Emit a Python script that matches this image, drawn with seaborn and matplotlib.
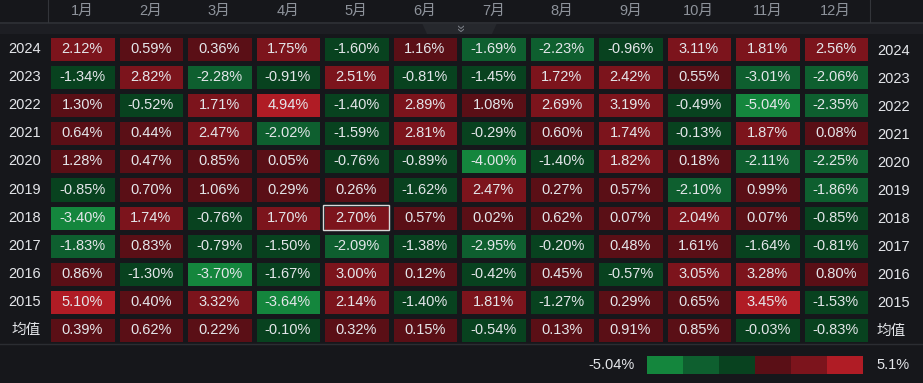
import matplotlib
matplotlib.use("Agg")
import matplotlib.pyplot as plt
from matplotlib.colors import ListedColormap, BoundaryNorm
from matplotlib.patches import Rectangle, Polygon
import numpy as np
import pandas as pd
import seaborn as sns

MONTHS = ["1月", "2月", "3月", "4月", "5月", "6月", "7月", "8月", "9月", "10月", "11月", "12月"]
ROW_LABELS = ["2024", "2023", "2022", "2021", "2020", "2019", "2018", "2017", "2016", "2015", "均值"]

r2024 = [2.12, 0.59, 0.36, 1.75, -1.60, 1.16, -1.69, -2.23, -0.96, 3.11, 1.81, 2.56]
r2023 = [-1.34, 2.82, -2.28, -0.91, 2.51, -0.81, -1.45, 1.72, 2.42, 0.55, -3.01, -2.06]
r2022 = [1.30, -0.52, 1.71, 4.94, -1.40, 2.89, 1.08, 2.69, 3.19, -0.49, -5.04, -2.35]
r2021 = [0.64, 0.44, 2.47, -2.02, -1.59, 2.81, -0.29, 0.60, 1.74, -0.13, 1.87, 0.08]
r2020 = [1.28, 0.47, 0.85, 0.05, -0.76, -0.89, -4.00, -1.40, 1.82, 0.18, -2.11, -2.25]
r2019 = [-0.85, 0.70, 1.06, 0.29, 0.26, -1.62, 2.47, 0.27, 0.57, -2.10, 0.99, -1.86]
r2018 = [-3.40, 1.74, -0.76, 1.70, 2.70, 0.57, 0.02, 0.62, 0.07, 2.04, 0.07, -0.85]
r2017 = [-1.83, 0.83, -0.79, -1.50, -2.09, -1.38, -2.95, -0.20, 0.48, 1.61, -1.64, -0.81]
r2016 = [0.86, -1.30, -3.70, -1.67, 3.00, 0.12, -0.42, 0.45, -0.57, 3.05, 3.28, 0.80]
r2015 = [5.10, 0.40, 3.32, -3.64, 2.14, -1.40, 1.81, -1.27, 0.29, 0.65, 3.45, -1.53]
r_mean = [0.39, 0.62, 0.22, -0.10, 0.32, 0.15, -0.54, 0.13, 0.91, 0.85, -0.03, -0.83]

VMIN, VMAX = -5.04, 5.1
BG = "#16171b"
COLORS = ["#14863d", "#0e5f2f", "#08421f", "#5a0f16", "#7c141c", "#b01c25"]
TEXT = "#e4e6ea"
HEAD = "#8e939b"

plt.rcParams["font.family"] = ["Liberation Sans", "Noto Sans CJK SC", "DejaVu Sans"]

df = pd.DataFrame(
    [r2024, r2023, r2022, r2021, r2020, r2019, r2018, r2017, r2016, r2015, r_mean],
    index=ROW_LABELS, columns=MONTHS,
)
labels = df.map(lambda v: f"{v:.2f}%")

bounds = [VMIN, VMIN * 2 / 3, VMIN / 3, 0, VMAX / 3, VMAX * 2 / 3, VMAX]
cmap = ListedColormap(COLORS)
norm = BoundaryNorm(bounds, cmap.N)

W, H = 923, 383
fig = plt.figure(figsize=(W / 100, H / 100), dpi=100, facecolor=BG)

# header band
fig.patches.append(Rectangle((0, 1 - 34 / H), 1, 12 / H, transform=fig.transFigure,
                             facecolor="#1d1e23", edgecolor="none", zorder=0))
fig.lines.append(plt.Line2D([0, 1], [1 - 22.5 / H] * 2, transform=fig.transFigure,
                            color="#2b2d32", lw=1.5))
for xp in (48, 870):
    fig.lines.append(plt.Line2D([xp / W] * 2, [1, 1 - 22 / H], transform=fig.transFigure,
                                color="#33353a", lw=0.8))
tab = Polygon([(422 / W, 1 - 23 / H), (497 / W, 1 - 23 / H), (492 / W, 1 - 34 / H), (427 / W, 1 - 34 / H)],
              closed=True, transform=fig.transFigure, facecolor="#26282d", edgecolor="none")
fig.patches.append(tab)
fig.text(459.5 / W, 1 - 28 / H, "»", rotation=-90, color="#7c8088", fontsize=10,
         ha="center", va="center")

ax = fig.add_axes([48 / W, 1 - 344 / H, 822 / W, 309 / H])
ax.set_facecolor(BG)
sns.heatmap(
    df, ax=ax, cmap=cmap, norm=norm, cbar=False,
    annot=labels, fmt="", annot_kws={"color": TEXT, "fontsize": 10.5},
    linewidths=2.2, linecolor=BG,
)
ax.set_xlabel("")
ax.set_ylabel("")
ax.xaxis.tick_top()
ax.set_xticks(np.arange(len(MONTHS)) + 0.5)
ax.set_xticklabels(MONTHS, rotation=0)
ax.tick_params(axis="x", length=0, colors=HEAD, labelsize=10.5, pad=12.5)
ax.tick_params(axis="y", length=0, colors=TEXT, labelsize=10.5, labelleft=True,
               labelright=True, left=False, right=False, pad=5)
ax.set_yticklabels(ROW_LABELS, rotation=0)

# highlighted cell (2018, 5月)
ax.add_patch(Rectangle((0.02 + 4, 6.05), 0.96, 0.9, fill=False, edgecolor="#d8d8d8", lw=1.0))

fig.lines.append(plt.Line2D([0, 1], [1 - 344 / H] * 2, transform=fig.transFigure,
                            color="#2b2d32", lw=1.0))

# legend bar
cax = fig.add_axes([647 / W, 1 - 374 / H, 216 / W, 18 / H])
cax.imshow(np.arange(len(COLORS))[None, :], cmap=cmap, aspect="auto")
cax.set_axis_off()
fig.text(635 / W, 1 - 365 / H, f"{VMIN:.2f}%", color=TEXT, fontsize=10.5, ha="right", va="center")
fig.text(876 / W, 1 - 365 / H, f"{VMAX:g}%", color=TEXT, fontsize=10.5, ha="left", va="center")

fig.savefig("out.png", dpi=100, facecolor=BG)
